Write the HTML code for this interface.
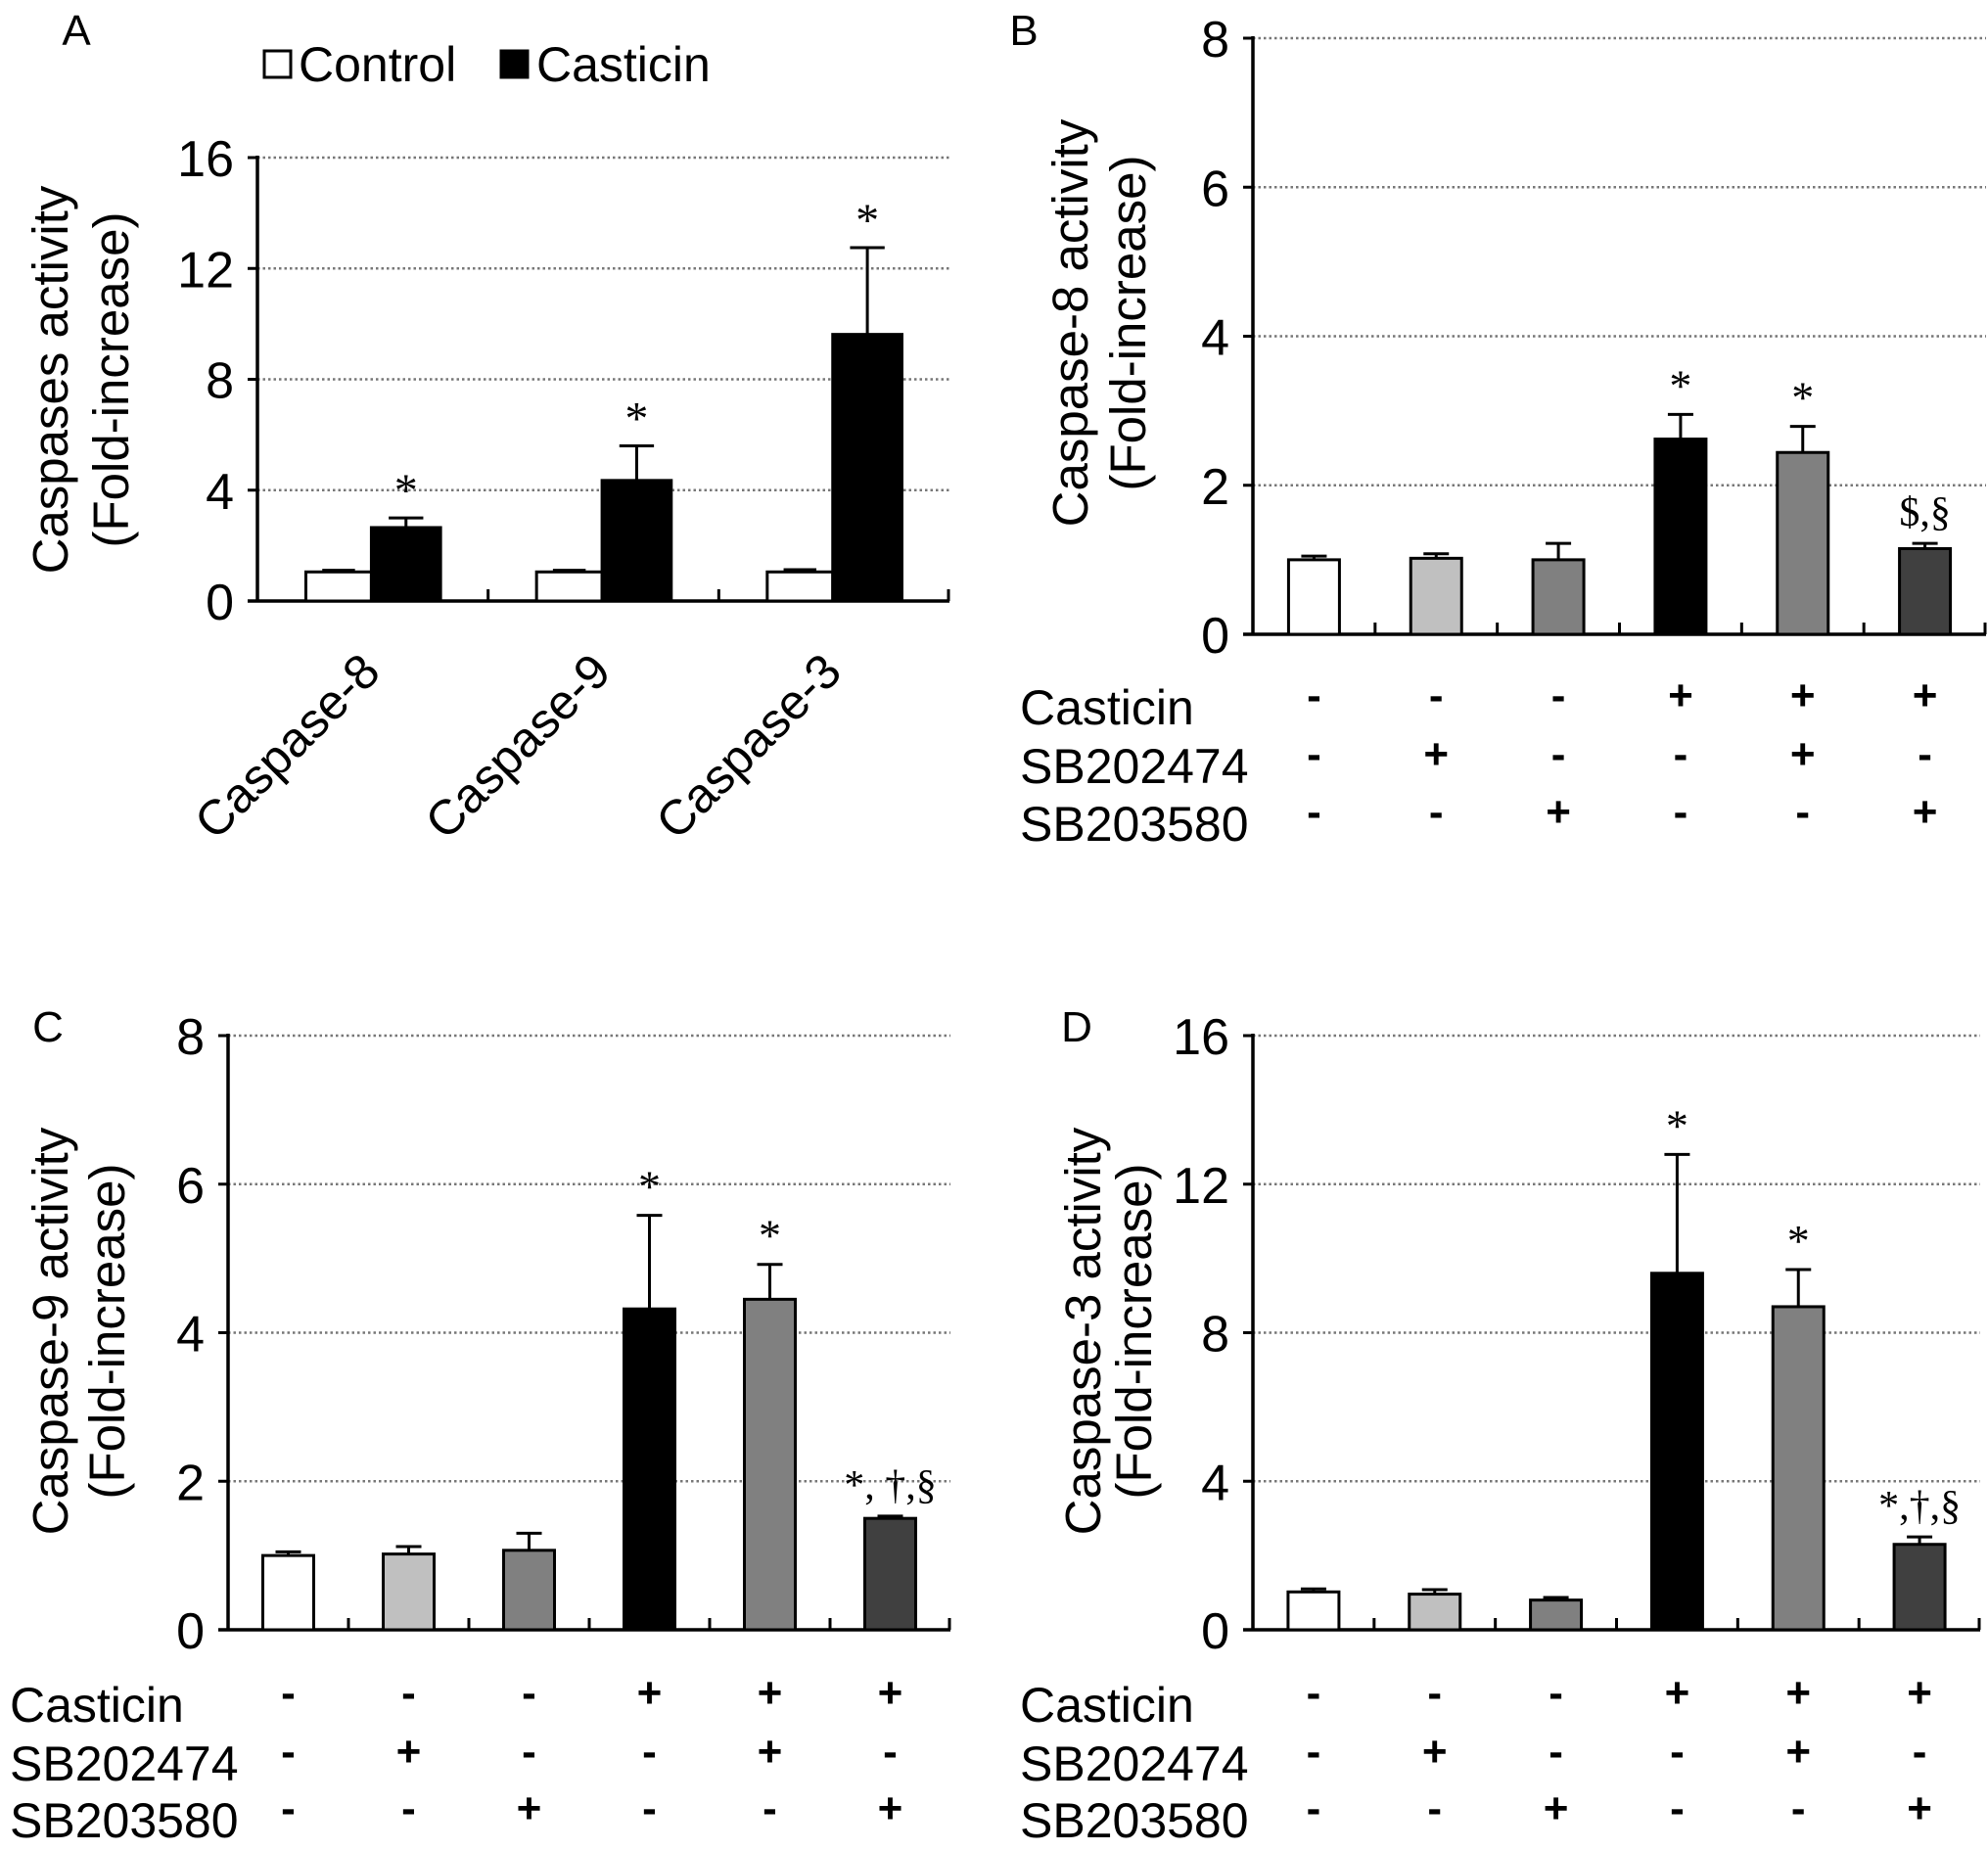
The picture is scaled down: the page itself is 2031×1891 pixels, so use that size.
<!DOCTYPE html>
<html><head><meta charset="utf-8"><style>
html,body{margin:0;padding:0;background:#fff}
svg{display:block}
text{font-family:"Liberation Sans",Arial,sans-serif;fill:#000}
.ser{font-family:"Liberation Serif","Times New Roman",serif}
</style></head><body>
<svg id="fig" width="2031" height="1891" viewBox="0 0 2031 1891" xmlns="http://www.w3.org/2000/svg">
<text x="78" y="46" font-size="44" text-anchor="middle">A</text>
<text x="1046" y="46" font-size="44" text-anchor="middle">B</text>
<text x="49" y="1064" font-size="44" text-anchor="middle">C</text>
<text x="1100" y="1064" font-size="44" text-anchor="middle">D</text>
<g>
<rect x="270" y="52" width="27" height="27" fill="#fff" stroke="#000" stroke-width="3"/>
<text x="305" y="83" font-size="50">Control</text>
<rect x="512" y="52" width="27" height="27" fill="#000" stroke="#000" stroke-width="3"/>
<text x="548" y="83" font-size="50">Casticin</text>
</g>
</svg>
<script>
// Panel A data
const aCategories = ["Caspase-8","Caspase-9","Caspase-3"];
const aControl = [1.05,1.05,1.05];
const aControlErr = [0.06,0.06,0.08];
const aCasticin = [2.65,4.35,9.62];
const aCasticinErr = [0.35,1.25,3.13];
const aTicks = [0,4,8,12,16];
// Panel B data
const bValues = [1.0,1.02,1.0,2.62,2.44,1.15];
const bErr = [0.05,0.06,0.22,0.33,0.35,0.07];
const bNotes = ["","","","*","*","$,§"];
const bTicks = [0,2,4,6,8];
// Panel C data
const cValues = [1.0,1.02,1.07,4.32,4.45,1.5];
const cErr = [0.05,0.1,0.23,1.26,0.47,0.03];
const cNotes = ["","","","*","*","*, †,§"];
const cTicks = [0,2,4,6,8];
// Panel D data
const dValues = [1.02,0.96,0.8,9.6,8.7,2.3];
const dErr = [0.08,0.12,0.07,3.2,1.0,0.2];
const dNotes = ["","","","*","*","*,†,§"];
const dTicks = [0,4,8,12,16];
// treatment table
const rowNames = ["Casticin","SB202474","SB203580"];
const casticinRow = ["-","-","-","+","+","+"];
const sb202474Row = ["-","+","-","-","+","-"];
const sb203580Row = ["-","-","+","-","-","+"];
const barColors = ["#ffffff","#c0c0c0","#808080","#000000","#808080","#404040"];

const NS="http://www.w3.org/2000/svg";
const svg=document.getElementById('fig');
function el(tag,attrs,parent){const e=document.createElementNS(NS,tag);for(const k in attrs)e.setAttribute(k,attrs[k]);(parent||svg).appendChild(e);return e;}
function txt(s,attrs,parent){const e=el('text',attrs,parent);e.textContent=s;return e;}

function axes(g,p,ticks){
  const y=v=>p.y0-(v/ticks[ticks.length-1])*(p.y0-p.yTop);
  ticks.forEach(t=>{
    if(t>0){const gl=el('line',{x1:p.x0,x2:p.x1,y1:y(t),y2:y(t),stroke:'#777','stroke-width':2.5,'stroke-dasharray':'2.5,3'},g);
      
      }
    const tk=el('line',{x1:p.x0-10,x2:p.x0,y1:y(t),y2:y(t),stroke:'#000','stroke-width':3},g);
    
    
    const tl=txt(String(t),{x:p.x0-24,y:y(t)+19,'font-size':52,'text-anchor':'end'},g);
    
    
  });
  const ya=el('line',{x1:p.x0,x2:p.x0,y1:p.yTop-2,y2:p.y0+1.5,stroke:'#000','stroke-width':3.5},g);
  
  
  const xa=el('line',{x1:p.x0-10,x2:p.x1,y1:p.y0,y2:p.y0,stroke:'#000','stroke-width':3.5},g);
  
  
  const et=el('line',{x1:p.x1-1,x2:p.x1-1,y1:p.y0,y2:p.y0-12,stroke:'#000','stroke-width':3},g);
  
  
  const tt=el('text',{transform:`translate(${p.tx},${p.ty}) rotate(-90)`,'font-size':51,'text-anchor':'middle'},g);
  
  
  const t1=el('tspan',{x:0,y:0},tt);t1.textContent=p.title;
  const t2=el('tspan',{x:0,y:p.lh},tt);t2.textContent='(Fold-increase)';
  return y;
}

function errBar(g,cx,yTop,yErr,w){
  const e1=el('line',{x1:cx,x2:cx,y1:yTop,y2:yErr,stroke:'#000','stroke-width':3},g);
  
  
  const e2=el('line',{x1:cx-w/2,x2:cx+w/2,y1:yErr,y2:yErr,stroke:'#000','stroke-width':3},g);
  
  
}

// Panel A
(function(){
  const g=el('g',{});
  
  
  const p={x0:263,x1:970,y0:614,yTop:161,title:'Caspases activity',tx:69,ty:388,lh:62};
  const y=axes(g,p,aTicks);
  const n=aCategories.length, cw=(p.x1-p.x0)/n;
  for(let i=0;i<n;i++){
    const cs=p.x0+i*cw;
    if(i>0){const t=el('line',{x1:cs,x2:cs,y1:p.y0,y2:p.y0-12,stroke:'#000','stroke-width':3},g);
      
      }
    const bw1=cw*0.284,bw2=cw*0.30,bx1=cs+cw*0.21,bx2=bx1+bw1;
    errBar(g,bx1+bw1/2,y(aControl[i]),y(aControl[i]+aControlErr[i]),bw1/2);
    errBar(g,bx2+bw2/2,y(aCasticin[i]),y(aCasticin[i]+aCasticinErr[i]),bw2/2);
    const r1=el('rect',{x:bx1,y:y(aControl[i]),width:bw1,height:p.y0-y(aControl[i]),fill:'#fff',stroke:'#000','stroke-width':3},g);
    
    
    const r2=el('rect',{x:bx2,y:y(aCasticin[i]),width:bw2,height:p.y0-y(aCasticin[i]),fill:'#000',stroke:'#000','stroke-width':3},g);
    
    
    const st=txt('*',{x:bx2+bw2/2,y:y(aCasticin[i]+aCasticinErr[i])-12,'font-size':48,'text-anchor':'middle','class':'ser'},g);
    
    
    const cx=cs+cw/2+10;
    const cl=txt(aCategories[i],{transform:`translate(${cx},${p.y0+75}) rotate(-45)`,'font-size':50,'text-anchor':'end'},g);
    
    
  }
})();

function panel(name,p,ticks,vals,errs,notes,rowYs,labelX){
  const g=el('g',{});
  
  
  const y=axes(g,p,ticks);
  const n=vals.length,cw=(p.x1-p.x0)/n,bw=52;
  for(let i=0;i<n;i++){
    const cs=p.x0+i*cw,cx=cs+cw/2;
    if(i>0){const t=el('line',{x1:cs,x2:cs,y1:p.y0,y2:p.y0-12,stroke:'#000','stroke-width':3},g);
      
      }
    errBar(g,cx,y(vals[i]),y(vals[i]+errs[i]),bw/2);
    const r=el('rect',{x:cx-bw/2,y:y(vals[i]),width:bw,height:p.y0-y(vals[i]),fill:barColors[i],stroke:'#000','stroke-width':3},g);
    
    
    if(notes[i]){
      const big=notes[i]==='*';
      const s=txt(notes[i],{x:cx,y:y(vals[i]+errs[i])-(big?14:18),'font-size':big?46:42,'text-anchor':'middle','class':'ser'},g);
      
      
    }
    [casticinRow,sb202474Row,sb203580Row].forEach((row,k)=>{
      const s=txt(row[i],{x:cx,y:rowYs[k]+2,'font-size':44,'font-weight':'bold','text-anchor':'middle'},g);
      
      
    });
  }
  rowNames.forEach((r,k)=>{
    const s=txt(r,{x:labelX,y:rowYs[k]+17,'font-size':50},g);
    
    
  });
}

panel('panel-b-chart',{x0:1280,x1:2029,y0:648,yTop:39,title:'Caspase-8 activity',tx:1111,ty:330,lh:59},bTicks,bValues,bErr,bNotes,[723,783,842],1042);
panel('panel-c-chart',{x0:233,x1:971,y0:1665,yTop:1058,title:'Caspase-9 activity',tx:69,ty:1360,lh:58},cTicks,cValues,cErr,cNotes,[1742,1802,1860],10);
panel('panel-d-chart',{x0:1280,x1:2023,y0:1665,yTop:1058,title:'Caspase-3 activity',tx:1124,ty:1360,lh:52},dTicks,dValues,dErr,dNotes,[1742,1802,1860],1042);
</script>
</body></html>
